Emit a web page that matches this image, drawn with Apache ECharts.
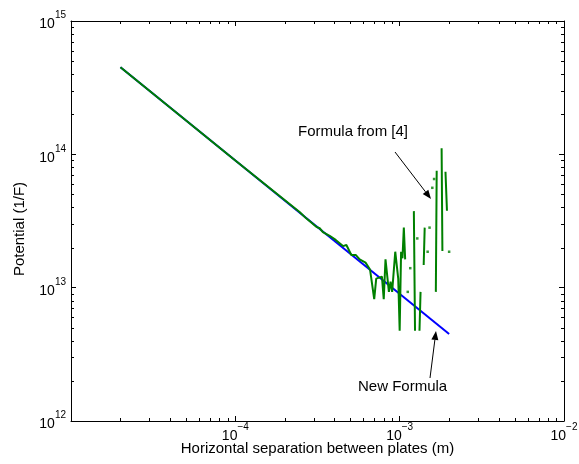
<!DOCTYPE html>
<html>
<head>
<meta charset="utf-8">
<script src="https://cdn.jsdelivr.net/npm/echarts@6/dist/echarts.min.js"></script>
<style>
html, body { margin: 0; padding: 0; background: #fff; }
#main { width: 579px; height: 464px; }
</style>
</head>
<body>
<div id="main"></div>
<script>
// blue curve, "New Formula" (straight in log-log)
var newX = [2e-5, 2e-3];
var newY = [4.5e14, 4.5e12];

// green curve, "Formula from [4]"; null = no value (gap in the line)
var oldX = [2e-5, 1e-4, 2.46e-4, 2.70e-4, 3.11e-4, 3.26e-4, 3.41e-4, 3.75e-4, 4.08e-4, 4.52e-4,
    4.74e-4, 5.08e-4, 5.40e-4, 5.71e-4, 6.2e-4, 6.6e-4, 7.0e-4, 7.2e-4, 7.8e-4, 8.0e-4,
    8.2e-4, 8.6e-4, 8.8e-4, 9.0e-4, 9.4e-4, 9.8e-4, 1.0e-3, 1.02e-3, 1.04e-3, 1.06e-3,
    1.08e-3, 1.10e-3, 1.22e-3, 1.24e-3, 1.26e-3, 1.32e-3, 1.34e-3, 1.36e-3, 1.40e-3, 1.42e-3,
    1.44e-3, 1.66e-3, 1.68e-3, 1.70e-3, 1.80e-3, 1.82e-3, 1.84e-3, 1.90e-3, 1.94e-3];
var oldY = [4.5e14, 9.0e13, 3.69e13, 3.31e13, 2.86e13, 2.79e13, 2.61e13, 2.45e13, 2.28e13, 2.05e13,
    2.09e13, 1.76e13, 1.76e13, 1.63e13, 1.54e13, 1.37e13, 8.2e12, 1.17e13, 1.21e13, 8.2e12,
    1.63e13, 9.3e12, 1.11e13, 9.3e12, 1.86e13, 1.17e13, 4.75e12, 1.86e13, 1.66e13, 2.82e13,
    1.63e13, null, 3.75e13, 4.75e12, null, 4.75e12, 9.3e12, null, 1.48e13, 2.82e13,
    null, 9.3e12, 7.54e13, null, 1.11e14, 1.88e13, null, 7.40e13, 3.78e13];

// isolated green points (neighbours missing)
var dotX = [1.12e-3, 1.16e-3, 1.28e-3, 1.48e-3, 1.52e-3, 1.58e-3, 1.62e-3, 2.0e-3];
var dotY = [9.3e12, 1.40e13, 2.34e13, 1.86e13, 2.82e13, 5.61e13, 6.53e13, 1.86e13];

var xRange = [1e-5, 1e-2];
var yRange = [1e12, 1e15];

var FONT = "'Liberation Sans', Arial, Helvetica, sans-serif";
var GREEN = '#008000';
var BLUE = '#0000ff';

function pairs(xs, ys) {
    var out = [];
    for (var i = 0; i < xs.length; i++) {
        out.push([xs[i], ys[i] == null ? '-' : ys[i]]);
    }
    return out;
}

// minor ticks 2..9 inside each decade
function minorTicks(range) {
    var t = [];
    for (var d = range[0]; d < range[1] * 0.999; d *= 10) {
        for (var m = 2; m <= 9; m++) t.push(d * m);
    }
    return t;
}

function powLabel(value, hideMin, min) {
    if (hideMin && Math.abs(value - min) / min < 1e-6) return '';
    var e = Math.round(Math.log10(value));
    return '{b|10}{s|' + (e < 0 ? '\u2212' + (-e) : e) + '}';
}

// base "10" sits low, exponent raised by the bottom padding
var rich = {
    b: { fontSize: 14, lineHeight: 14, fontFamily: FONT, color: '#000', verticalAlign: 'bottom' },
    s: { fontSize: 10, fontFamily: FONT, color: '#000', verticalAlign: 'top', padding: [0, 0, 11, 0] }
};

function tickSeries(axis, values, len) {
    var data = values.map(function (v) {
        return axis === 'x' ? [v, yRange[0]] : [xRange[0], v];
    });
    return {
        type: 'custom',
        silent: true,
        clip: false,
        z: 5,
        data: data,
        renderItem: function (params, api) {
            var style = { stroke: '#000', lineWidth: 1 };
            if (axis === 'x') {
                var v = api.value(0);
                var b = api.coord([v, yRange[0]]);
                var t = api.coord([v, yRange[1]]);
                var x = Math.round(b[0]) + 0.5;
                return {
                    type: 'group', children: [
                        { type: 'line', shape: { x1: x, y1: b[1], x2: x, y2: b[1] - len }, style: style },
                        { type: 'line', shape: { x1: x, y1: t[1], x2: x, y2: t[1] + len }, style: style }
                    ]
                };
            }
            var w = api.value(1);
            var l = api.coord([xRange[0], w]);
            var r = api.coord([xRange[1], w]);
            var y = Math.round(l[1]) + 0.5;
            return {
                type: 'group', children: [
                    { type: 'line', shape: { x1: l[0], y1: y, x2: l[0] + len, y2: y }, style: style },
                    { type: 'line', shape: { x1: r[0], y1: y, x2: r[0] - len, y2: y }, style: style }
                ]
            };
        }
    };
}

function arrow(x1, y1, x2, y2) {
    var dx = x2 - x1, dy = y2 - y1;
    var L = Math.sqrt(dx * dx + dy * dy);
    var ux = dx / L, uy = dy / L;
    var hl = 9, hw = 3.5;
    var bx = x2 - ux * hl, by = y2 - uy * hl;
    return [
        { type: 'line', shape: { x1: x1, y1: y1, x2: bx, y2: by }, style: { stroke: '#000', lineWidth: 1 } },
        {
            type: 'polygon',
            shape: { points: [[x2, y2], [bx - uy * hw, by + ux * hw], [bx + uy * hw, by - ux * hw]] },
            style: { fill: '#000' }
        }
    ];
}

var axisLine = { show: true, lineStyle: { color: '#000', width: 1 } };
var axisTick = { show: true, inside: true, length: 5, lineStyle: { color: '#000', width: 1 } };

var myChart = echarts.init(document.getElementById('main'));

var option = {
    animation: false,
    backgroundColor: '#fff',
    grid: { left: 71, right: 15, top: 21, bottom: 43, outerBoundsMode: 'none', containLabel: false },
    xAxis: [{
        type: 'log', logBase: 10, min: xRange[0], max: xRange[1],
        position: 'bottom',
        axisLine: axisLine, axisTick: axisTick,
        splitLine: { show: false },
        axisLabel: {
            margin: 1, showMinLabel: true, showMaxLabel: true, hideOverlap: false,
            formatter: function (v) { return powLabel(v, true, xRange[0]); },
            rich: rich
        },
        name: 'Horizontal separation between plates (m)',
        nameLocation: 'middle', nameGap: 20, nameMoveOverlap: false,
        nameTextStyle: { fontSize: 15, fontFamily: FONT, color: '#000' }
    }, {
        type: 'log', logBase: 10, min: xRange[0], max: xRange[1],
        position: 'top',
        axisLine: axisLine, axisTick: axisTick,
        splitLine: { show: false }, axisLabel: { show: false }
    }],
    yAxis: [{
        type: 'log', logBase: 10, min: yRange[0], max: yRange[1],
        position: 'left',
        axisLine: axisLine, axisTick: axisTick,
        splitLine: { show: false },
        axisLabel: {
            margin: 5, showMinLabel: true, showMaxLabel: true, hideOverlap: false,
            formatter: function (v) { return powLabel(v, false); },
            rich: rich
        },
        name: 'Potential (1/F)',
        nameLocation: 'middle', nameGap: 44, nameMoveOverlap: false,
        nameTextStyle: { fontSize: 15, fontFamily: FONT, color: '#000', padding: [0, 16, 0, 0] }
    }, {
        type: 'log', logBase: 10, min: yRange[0], max: yRange[1],
        position: 'right',
        axisLine: axisLine, axisTick: axisTick,
        splitLine: { show: false }, axisLabel: { show: false }
    }],
    series: [{
        name: 'New Formula',
        type: 'line',
        data: pairs(newX, newY),
        showSymbol: false,
        lineStyle: { color: BLUE, width: 2 },
        z: 2
    }, {
        name: 'Formula from [4]',
        type: 'line',
        data: pairs(oldX, oldY),
        showSymbol: false,
        connectNulls: false,
        lineStyle: { color: GREEN, width: 2 },
        z: 3
    }, {
        type: 'scatter',
        data: pairs(dotX, dotY),
        symbol: 'rect',
        symbolSize: 2.5,
        itemStyle: { color: GREEN },
        z: 3
    },
        tickSeries('x', minorTicks(xRange), 3),
        tickSeries('y', minorTicks(yRange), 3)
    ],
    graphic: [
        {
            type: 'text', left: 298, top: 124,
            style: { text: 'Formula from [4]', font: '15px ' + FONT, fill: '#000' }
        },
        {
            type: 'text', left: 358, top: 379,
            style: { text: 'New Formula', font: '15px ' + FONT, fill: '#000' }
        }
    ].concat(arrow(395, 152, 431, 199)).concat(arrow(430, 378, 436, 331))
};

myChart.setOption(option);
</script>
</body>
</html>
